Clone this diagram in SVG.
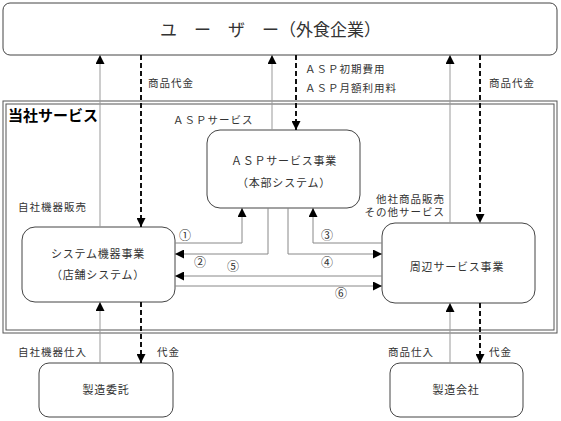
<svg xmlns="http://www.w3.org/2000/svg" width="561" height="421" viewBox="0 0 561 421">
<defs>
<marker id="ah" viewBox="0 0 9 9" refX="9" refY="4.5" markerWidth="9" markerHeight="9" markerUnits="userSpaceOnUse" orient="auto">
<path d="M0,0 L9,4.5 L0,9 z" fill="#000"/>
</marker>
<style>
text{font-family:"Liberation Serif","Noto Sans CJK JP",serif;fill:#333}
.box{fill:#fff;stroke:#444;stroke-width:1}
.frame{fill:none;stroke:#555;stroke-width:1}
.sol{fill:none;stroke:#999;stroke-width:1;marker-end:url(#ah)}
.dash{fill:none;stroke:#111;stroke-width:2;stroke-dasharray:5,3;marker-end:url(#ah)}
.hl{fill:none;stroke:#888;stroke-width:1;marker-end:url(#ah)}
.lbl{font-size:10.5px;letter-spacing:1px}
.btxt{font-size:11px;letter-spacing:0.8px;text-anchor:middle}
.num{font-family:"Noto Sans CJK JP",sans-serif;font-size:12px;text-anchor:middle}
</style>
</defs>
<rect class="frame" x="3" y="101" width="554" height="232"/>
<rect class="frame" x="6" y="104" width="548" height="226"/>
<text x="8" y="121" style="font-family:'Noto Sans CJK JP',sans-serif;font-size:15px;font-weight:bold;fill:#000">当社サービス</text>
<g id="user">
<rect class="box" x="3" y="3" width="554" height="52" rx="7"/>
<text x="160" y="36" style="font-size:17px">ユ　ー　ザ　ー（外食企業）</text>
</g>
<g id="asp">
<rect class="box" x="207" y="130" width="153" height="78" rx="13"/>
<text class="btxt" x="284" y="165">ＡＳＰサービス事業</text>
<text class="btxt" x="284" y="187">（本部システム）</text>
</g>
<g id="system">
<rect class="box" x="22" y="227" width="153" height="75" rx="13"/>
<text class="btxt" x="98" y="258">システム機器事業</text>
<text class="btxt" x="98" y="279">（店舗システム）</text>
</g>
<g id="shuhen">
<rect class="box" x="382" y="223" width="153" height="80" rx="13"/>
<text class="btxt" x="457" y="271">周辺サービス事業</text>
</g>
<g id="itaku">
<rect class="box" x="39" y="363" width="134" height="54" rx="10"/>
<text class="btxt" x="106" y="394">製造委託</text>
</g>
<g id="kaisha">
<rect class="box" x="390" y="363" width="133" height="54" rx="10"/>
<text class="btxt" x="456" y="394">製造会社</text>
</g>
<g id="connectors">
<path class="sol" d="M100,227 V55"/>
<path class="dash" d="M141,55 V227"/>
<path class="sol" d="M272,130 V55"/>
<path class="dash" d="M296,55 V130"/>
<path class="sol" d="M450,223 V55"/>
<path class="dash" d="M480,55 V223"/>
<path class="sol" d="M100,363 V302"/>
<path class="dash" d="M141,302 V363"/>
<path class="sol" d="M450,363 V303"/>
<path class="dash" d="M480,303 V363"/>
<path class="hl" d="M175,243 H242 V208"/>
<path class="hl" d="M268,208 V254 H175"/>
<path class="hl" d="M382,243 H313 V208"/>
<path class="hl" d="M288,208 V254 H382"/>
<path class="hl" d="M382,276 H175"/>
<path class="hl" d="M175,286 H382"/>
</g>
<g id="labels">
<text class="lbl" x="148" y="87">商品代金</text>
<text class="lbl" x="305" y="73">ＡＳＰ初期費用</text>
<text class="lbl" x="305" y="92">ＡＳＰ月額利用料</text>
<text class="lbl" x="489" y="87">商品代金</text>
<text class="lbl" x="173" y="124">ＡＳＰサービス</text>
<text class="lbl" x="18" y="211">自社機器販売</text>
<text class="lbl" x="445" y="203" text-anchor="end">他社商品販売</text>
<text class="lbl" x="445" y="216" text-anchor="end">その他サービス</text>
<text class="lbl" x="18" y="356">自社機器仕入</text>
<text class="lbl" x="157" y="356">代金</text>
<text class="lbl" x="388" y="356">商品仕入</text>
<text class="lbl" x="489" y="356">代金</text>
<text class="num" x="185" y="240">①</text>
<text class="num" x="200" y="267">②</text>
<text class="num" x="327" y="240">③</text>
<text class="num" x="327" y="267">④</text>
<text class="num" x="233" y="271">⑤</text>
<text class="num" x="341" y="298">⑥</text>
</g>
</svg>
